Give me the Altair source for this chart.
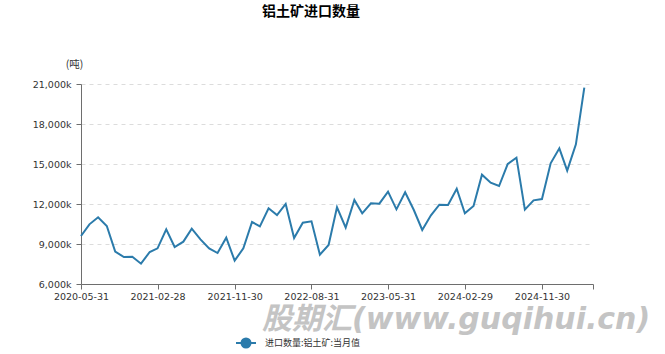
import altair as alt
import pandas as pd

# Monthly dates (month end)
dates = [
    "2020-05-31", "2020-06-30", "2020-07-31", "2020-08-31", "2020-09-30", "2020-10-31",
    "2020-11-30", "2020-12-31", "2021-01-31", "2021-02-28", "2021-03-31", "2021-04-30",
    "2021-05-31", "2021-06-30", "2021-07-31", "2021-08-31", "2021-09-30", "2021-10-31",
    "2021-11-30", "2021-12-31", "2022-01-31", "2022-02-28", "2022-03-31", "2022-04-30",
    "2022-05-31", "2022-06-30", "2022-07-31", "2022-08-31", "2022-09-30", "2022-10-31",
    "2022-11-30", "2022-12-31", "2023-01-31", "2023-02-28", "2023-03-31", "2023-04-30",
    "2023-05-31", "2023-06-30", "2023-07-31", "2023-08-31", "2023-09-30", "2023-10-31",
    "2023-11-30", "2023-12-31", "2024-01-31", "2024-02-29", "2024-03-31", "2024-04-30",
    "2024-05-31", "2024-06-30", "2024-07-31", "2024-08-31", "2024-09-30", "2024-10-31",
    "2024-11-30", "2024-12-31", "2025-01-31", "2025-02-28", "2025-03-31", "2025-04-30",
]

# Import volume of bauxite, tonnes
values = [
    9600000, 10475000, 11000000, 10350000, 8425000, 8025000,
    8050000, 7525000, 8400000, 8675000, 10100000, 8775000,
    9175000, 10150000, 9350000, 8675000, 8325000, 9475000,
    7750000, 8675000, 10650000, 10325000, 11675000, 11175000,
    12000000, 9450000, 10600000, 10700000, 8200000, 8925000,
    11750000, 10225000, 12300000, 11300000, 12050000, 12025000,
    12925000, 11600000, 12875000, 11550000, 10050000, 11150000,
    11950000, 11925000, 13150000, 11300000, 11850000, 14200000,
    13600000, 13350000, 15000000, 15475000, 11575000, 12275000,
    12375000, 15050000, 16175000, 14500000, 16475000, 20725000,
]

series_name = "进口数量:铝土矿:当月值"
title_text = "铝土矿进口数量"
unit_text = "(吨)"
watermark_text = "股期汇(www.guqihui.cn)"

y_ticks = [6000000, 9000000, 12000000, 15000000, 18000000, 21000000]
x_tick_dates = [(2020, 5, 31), (2021, 2, 28), (2021, 11, 30), (2022, 8, 31),
                (2023, 5, 31), (2024, 2, 29), (2024, 11, 30), (2025, 5, 31)]

line_color = "#2b7bab"
axis_color = "#6e6e6e"
label_color = "#333333"
label_font = "DejaVu Sans"
cjk_font = "Noto Sans CJK SC"

df = pd.DataFrame({"date": dates, "value": values, "series": series_name})


def dt(y, m, d):
    return alt.DateTime(year=y, month=m, date=d, utc=True)


legend_symbol = "M-1,0H1M0.45,0A0.45,0.45,0,1,1,-0.45,0A0.45,0.45,0,1,1,0.45,0Z"

line = alt.Chart(df).mark_line(strokeWidth=2).encode(
    x=alt.X(
        "date:T",
        scale=alt.Scale(type="utc", domain=[dt(2020, 5, 31), dt(2025, 5, 31)]),
        axis=alt.Axis(
            values=[dt(*t) for t in x_tick_dates],
            labelExpr="utcyear(datum.value) == 2025 && utcmonth(datum.value) == 4 ? '' : utcFormat(datum.value, '%Y-%m-%d')",
            title=None,
            grid=False,
            tickSize=5,
            tickColor=axis_color,
            domainColor=axis_color,
            labelColor=label_color,
            labelFont=label_font,
            labelFontSize=9.5,
            labelPadding=2,
            labelOverlap=False,
            labelBound=False,
            labelFlush=False,
        ),
    ),
    y=alt.Y(
        "value:Q",
        scale=alt.Scale(domain=[6000000, 21000000], nice=False, zero=False),
        axis=alt.Axis(
            values=y_ticks,
            labelExpr="format(datum.value / 1000, ',') + 'k'",
            title=unit_text,
            titleAngle=0,
            titleX=-7,
            titleY=-20,
            titleAlign="center",
            titleBaseline="middle",
            titleFont=cjk_font,
            titleFontSize=10.5,
            titleFontWeight="normal",
            titleColor=label_color,
            grid=True,
            gridDash=[4, 4],
            gridColor="#dcdcdc",
            gridWidth=1,
            tickSize=5,
            tickColor=axis_color,
            domainColor=axis_color,
            labelColor=label_color,
            labelFont=label_font,
            labelFontSize=9.5,
            labelPadding=5,
        ),
    ),
    color=alt.Color(
        "series:N",
        scale=alt.Scale(range=[line_color]),
        legend=alt.Legend(
            orient="none",
            legendX=154,
            legendY=248,
            title=None,
            symbolType=legend_symbol,
            symbolSize=400,
            symbolStrokeWidth=2,
            symbolFillColor=line_color,
            symbolStrokeColor=line_color,
            labelFont=cjk_font,
            labelFontSize=9,
            labelColor=label_color,
            labelOffset=8,
            padding=0,
        ),
    ),
)

watermark = alt.Chart(pd.DataFrame({"t": [watermark_text]})).mark_text(
    font="DejaVu Sans, Noto Sans CJK SC",
    fontSize=30,
    fontWeight="bold",
    fontStyle="italic",
    color="#c4c4c4",
    align="left",
    baseline="alphabetic",
).encode(
    text="t:N",
    x=alt.value(181),
    y=alt.value(245),
)

chart = alt.layer(watermark, line).properties(
    width=512,
    height=200,
    padding={"left": 81, "top": 84, "right": 72, "bottom": 70},
    autosize=alt.AutoSizeParams(type="none"),
    title=alt.TitleParams(
        text=title_text,
        font=cjk_font,
        fontSize=14,
        fontWeight="bold",
        color="#000000",
        anchor="middle",
        frame="group",
        dx=-26,
        offset=40,
    ),
).configure_view(stroke=None)

chart.save("out.html", embed_options={"renderer": "svg", "actions": False})
